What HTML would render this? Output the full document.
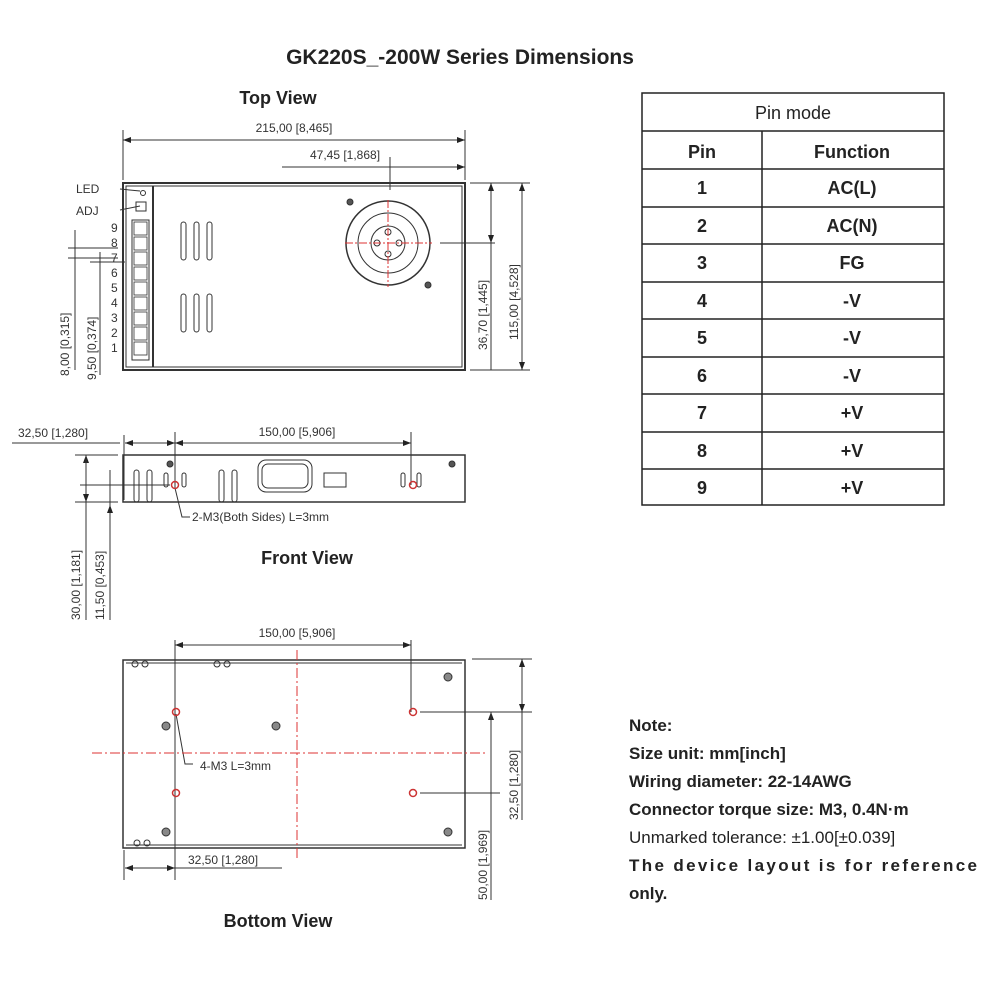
<!DOCTYPE html>
<html><head><meta charset="utf-8"><style>
html,body{margin:0;padding:0;background:#fff;width:1000px;height:1000px;overflow:hidden}
svg{display:block}
.d{font-family:"Liberation Sans",sans-serif;font-size:12px;fill:#333}
.b{font-family:"Liberation Sans",sans-serif;font-weight:bold;fill:#222}
</style></head><body>
<svg width="1000" height="1000" viewBox="0 0 1000 1000" xmlns="http://www.w3.org/2000/svg">
<defs>
<marker id="a" markerWidth="8" markerHeight="6" refX="8" refY="3" orient="auto-start-reverse"><path d="M0,0 L8,3 L0,6 z" fill="#222"/></marker>
</defs>
<text class="b" x="460" y="64" font-size="21" text-anchor="middle">GK220S_-200W Series Dimensions</text>
<text class="b" x="278" y="104" font-size="18" text-anchor="middle">Top View</text>

<!-- TOP VIEW -->
<g stroke="#333" fill="none">
<rect x="123" y="183" width="342" height="187" stroke-width="2"/>
<rect x="126" y="186" width="336" height="181" stroke-width="1"/>
<line x1="153" y1="186" x2="153" y2="367" stroke-width="2"/>
<line x1="123" y1="140" x2="465" y2="140" marker-start="url(#a)" marker-end="url(#a)"/>
<line x1="123" y1="130" x2="123" y2="180"/><line x1="465" y1="130" x2="465" y2="180"/>
<line x1="282" y1="167" x2="465" y2="167" marker-end="url(#a)"/>
<line x1="390" y1="157" x2="390" y2="190"/>
<line x1="470" y1="183" x2="530" y2="183"/><line x1="470" y1="370" x2="530" y2="370"/>
<line x1="440" y1="243" x2="495" y2="243"/>
<line x1="491" y1="183" x2="491" y2="243" marker-start="url(#a)" marker-end="url(#a)"/>
<line x1="491" y1="243" x2="491" y2="370"/>
<line x1="522" y1="183" x2="522" y2="370" marker-start="url(#a)" marker-end="url(#a)"/>
<!-- vents -->
<rect x="181" y="222" width="5" height="38" rx="2.5"/><rect x="194" y="222" width="5" height="38" rx="2.5"/><rect x="207" y="222" width="5" height="38" rx="2.5"/>
<rect x="181" y="294" width="5" height="38" rx="2.5"/><rect x="194" y="294" width="5" height="38" rx="2.5"/><rect x="207" y="294" width="5" height="38" rx="2.5"/>
<!-- fan -->
<circle cx="388" cy="243" r="42" stroke-width="1.5"/>
<circle cx="388" cy="243" r="30"/>
<circle cx="388" cy="243" r="17"/>
<circle cx="388" cy="232" r="3"/><circle cx="388" cy="254" r="3"/><circle cx="377" cy="243" r="3"/><circle cx="399" cy="243" r="3"/>
<circle cx="350" cy="202" r="3" fill="#555"/><circle cx="428" cy="285" r="3" fill="#555"/>
<!-- terminals -->
<rect x="132" y="220" width="17" height="140"/>
<g stroke-width="0.8">
<rect x="134" y="222" width="13" height="13"/><rect x="134" y="237" width="13" height="13"/><rect x="134" y="252" width="13" height="13"/><rect x="134" y="267" width="13" height="13"/><rect x="134" y="282" width="13" height="13"/><rect x="134" y="297" width="13" height="13"/><rect x="134" y="312" width="13" height="13"/><rect x="134" y="327" width="13" height="13"/><rect x="134" y="342" width="13" height="13"/>
</g>
<rect x="136" y="202" width="10" height="9"/><circle cx="143" cy="193" r="2.5"/>
<line x1="120" y1="189" x2="140" y2="191"/><line x1="120" y1="210" x2="140" y2="206"/>
<!-- left small dims -->
<line x1="75" y1="230" x2="75" y2="370"/><line x1="100" y1="252" x2="100" y2="375"/>
<line x1="68" y1="248" x2="118" y2="248"/><line x1="68" y1="258" x2="118" y2="258"/>
<line x1="90" y1="262" x2="125" y2="262"/>
</g>
<g stroke="#d33" stroke-dasharray="8,2,2,2"><line x1="345" y1="243" x2="432" y2="243"/><line x1="388" y1="200" x2="388" y2="287"/></g>
<text class="d" x="294" y="132" text-anchor="middle">215,00 [8,465]</text>
<text class="d" x="345" y="159" text-anchor="middle">47,45 [1,868]</text>
<text class="d" x="76" y="193">LED</text><text class="d" x="76" y="215">ADJ</text>
<g class="d" font-size="12"><text x="111" y="232">9</text><text x="111" y="247">8</text><text x="111" y="262">7</text><text x="111" y="277">6</text><text x="111" y="292">5</text><text x="111" y="307">4</text><text x="111" y="322">3</text><text x="111" y="337">2</text><text x="111" y="352">1</text></g>
<text class="d" transform="translate(69,376) rotate(-90)">8,00 [0,315]</text>
<text class="d" transform="translate(96,380) rotate(-90)">9,50 [0,374]</text>
<text class="d" transform="translate(487,350) rotate(-90)">36,70 [1,445]</text>
<text class="d" transform="translate(518,340) rotate(-90)">115,00 [4,528]</text>

<!-- TABLE -->
<g stroke="#222" fill="none" stroke-width="1.5">
<rect x="642" y="93" width="302" height="412"/>
<line x1="642" y1="131" x2="944" y2="131"/>
<line x1="762" y1="131" x2="762" y2="505"/>
<line x1="642" y1="169" x2="944" y2="169"/><line x1="642" y1="207" x2="944" y2="207"/><line x1="642" y1="244" x2="944" y2="244"/><line x1="642" y1="282" x2="944" y2="282"/><line x1="642" y1="319" x2="944" y2="319"/><line x1="642" y1="357" x2="944" y2="357"/><line x1="642" y1="394" x2="944" y2="394"/><line x1="642" y1="432" x2="944" y2="432"/><line x1="642" y1="469" x2="944" y2="469"/>
</g>
<g class="b" font-size="18" text-anchor="middle" font-weight="normal">
<text x="793" y="119" font-weight="normal">Pin mode</text>
<text x="702" y="158">Pin</text><text x="852" y="158">Function</text>
<text x="702" y="194">1</text><text x="852" y="194">AC(L)</text>
<text x="702" y="232">2</text><text x="852" y="232">AC(N)</text>
<text x="702" y="269">3</text><text x="852" y="269">FG</text>
<text x="702" y="307">4</text><text x="852" y="307">-V</text>
<text x="702" y="344">5</text><text x="852" y="344">-V</text>
<text x="702" y="382">6</text><text x="852" y="382">-V</text>
<text x="702" y="419">7</text><text x="852" y="419">+V</text>
<text x="702" y="457">8</text><text x="852" y="457">+V</text>
<text x="702" y="494">9</text><text x="852" y="494">+V</text>
</g>

<!-- FRONT VIEW -->
<g stroke="#333" fill="none">
<rect x="123" y="455" width="342" height="47" stroke-width="1.5"/>
<line x1="12" y1="443" x2="120" y2="443"/>
<line x1="125" y1="443" x2="175" y2="443" marker-start="url(#a)" marker-end="url(#a)"/>
<line x1="175" y1="443" x2="411" y2="443" marker-start="url(#a)" marker-end="url(#a)"/>
<line x1="124" y1="435" x2="124" y2="500"/><line x1="175" y1="432" x2="175" y2="488"/><line x1="411" y1="432" x2="411" y2="485"/>
<line x1="75" y1="455" x2="118" y2="455"/><line x1="75" y1="502" x2="118" y2="502"/>
<line x1="80" y1="485" x2="170" y2="485"/>
<line x1="86" y1="455" x2="86" y2="620" marker-start="url(#a)"/><line x1="86" y1="455" x2="86" y2="502" marker-end="url(#a)"/>
<line x1="110" y1="470" x2="110" y2="620"/><line x1="110" y1="505" x2="110" y2="520" marker-start="url(#a)"/>
<rect x="134" y="470" width="5" height="32" rx="2.5"/><rect x="147" y="470" width="5" height="32" rx="2.5"/>
<rect x="164" y="473" width="4" height="14" rx="2"/><rect x="182" y="473" width="4" height="14" rx="2"/>
<rect x="219" y="470" width="5" height="32" rx="2.5"/><rect x="232" y="470" width="5" height="32" rx="2.5"/>
<rect x="258" y="460" width="54" height="32" rx="8"/><rect x="262" y="464" width="46" height="24" rx="6"/>
<rect x="324" y="473" width="22" height="14"/>
<rect x="401" y="473" width="4" height="14" rx="2"/><rect x="417" y="473" width="4" height="14" rx="2"/>
<circle cx="170" cy="464" r="3" fill="#555"/><circle cx="452" cy="464" r="3" fill="#555"/>
<polyline points="175,488 182,517 190,517"/>
</g>
<circle cx="175" cy="485" r="3.5" fill="none" stroke="#c33" stroke-width="1.5"/>
<circle cx="413" cy="485" r="3.5" fill="none" stroke="#c33" stroke-width="1.5"/>
<text class="d" x="18" y="437">32,50 [1,280]</text>
<text class="d" x="297" y="436" text-anchor="middle">150,00 [5,906]</text>
<text class="d" x="192" y="521">2-M3(Both Sides) L=3mm</text>
<text class="b" x="307" y="564" font-size="18" text-anchor="middle">Front View</text>
<text class="d" transform="translate(80,620) rotate(-90)">30,00 [1,181]</text>
<text class="d" transform="translate(104,620) rotate(-90)">11,50 [0,453]</text>

<!-- BOTTOM VIEW -->
<g stroke="#333" fill="none">
<rect x="123" y="660" width="342" height="188" stroke-width="1.5"/>
<line x1="126" y1="663" x2="462" y2="663"/><line x1="126" y1="845" x2="462" y2="845"/>
<line x1="175" y1="645" x2="411" y2="645" marker-start="url(#a)" marker-end="url(#a)"/>
<line x1="175" y1="640" x2="175" y2="880"/><line x1="411" y1="640" x2="411" y2="712"/>
<line x1="125" y1="868" x2="175" y2="868" marker-start="url(#a)" marker-end="url(#a)"/>
<line x1="175" y1="868" x2="282" y2="868"/><line x1="124" y1="850" x2="124" y2="880"/>
<line x1="472" y1="659" x2="532" y2="659"/><line x1="420" y1="712" x2="532" y2="712"/><line x1="420" y1="793" x2="500" y2="793"/>
<line x1="522" y1="659" x2="522" y2="712" marker-start="url(#a)" marker-end="url(#a)"/>
<line x1="522" y1="712" x2="522" y2="820"/>
<line x1="491" y1="712" x2="491" y2="790" marker-start="url(#a)"/>
<line x1="491" y1="712" x2="491" y2="900"/>
<circle cx="135" cy="664" r="3"/><circle cx="145" cy="664" r="3"/><circle cx="217" cy="664" r="3"/><circle cx="227" cy="664" r="3"/>
<circle cx="137" cy="843" r="3"/><circle cx="147" cy="843" r="3"/>
<circle cx="448" cy="677" r="4" fill="#888"/><circle cx="166" cy="726" r="4" fill="#888"/><circle cx="276" cy="726" r="4" fill="#888"/><circle cx="166" cy="832" r="4" fill="#888"/><circle cx="448" cy="832" r="4" fill="#888"/>
<polyline points="176,714 185,764 193,764"/>
</g>
<g stroke="#d33" stroke-dasharray="10,3,2,3"><line x1="297" y1="650" x2="297" y2="858"/><line x1="92" y1="753" x2="485" y2="753"/></g>
<g fill="none" stroke="#c33" stroke-width="1.5"><circle cx="176" cy="712" r="3.5"/><circle cx="413" cy="712" r="3.5"/><circle cx="176" cy="793" r="3.5"/><circle cx="413" cy="793" r="3.5"/></g>
<text class="d" x="297" y="637" text-anchor="middle">150,00 [5,906]</text>
<text class="d" x="200" y="770">4-M3 L=3mm</text>
<text class="d" x="188" y="864">32,50 [1,280]</text>
<text class="d" transform="translate(518,820) rotate(-90)">32,50 [1,280]</text>
<text class="d" transform="translate(487,900) rotate(-90)">50,00 [1,969]</text>
<text class="b" x="278" y="927" font-size="18" text-anchor="middle">Bottom  View</text>

<!-- NOTES -->
<g class="b" font-size="17">
<text x="629" y="731">Note:</text>
<text x="629" y="759">Size unit: mm[inch]</text>
<text x="629" y="787">Wiring diameter: 22-14AWG</text>
<text x="629" y="815">Connector torque size: M3, 0.4N·m</text>
<text x="629" y="843" font-weight="normal" fill="#222">Unmarked tolerance: ±1.00[±0.039]</text>
<text x="629" y="871" textLength="348" lengthAdjust="spacing">The device layout is for reference</text>
<text x="629" y="899">only.</text>
</g>
</svg>
</body></html>
